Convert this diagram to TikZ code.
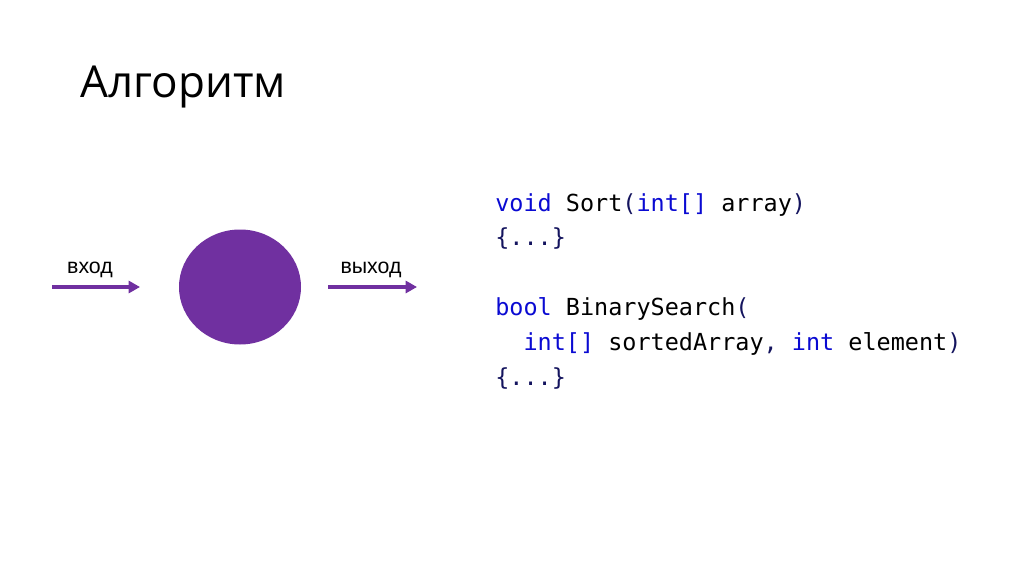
\documentclass[tikz,border=0pt]{standalone}
\usepackage{fontspec}
\setmainfont{Open Sans}
\setmonofont{DejaVu Sans Mono}
\newfontfamily\labelfont{Liberation Sans}
\usepackage{xcolor}
\usepackage{tikz}
\usetikzlibrary{arrows.meta, shapes.geometric, positioning, calc}

\definecolor{algpurple}{HTML}{7030A0}
\definecolor{kwblue}{HTML}{0A0AD2}
\definecolor{pnavy}{HTML}{14145E}
\newcommand{\kw}[1]{\textcolor{kwblue}{#1}}
\newcommand{\pn}[1]{\textcolor{pnavy}{#1}}

\begin{document}
\begin{tikzpicture}[x=0.75pt,y=-0.75pt,
  flow/.style={-{Triangle[length=8.5pt,width=9pt]},line width=3pt,algpurple},
  iolabel/.style={anchor=base,inner sep=0pt,font=\labelfont\fontsize{16}{18}\selectfont},
  codeline/.style={anchor=base west,inner sep=0pt,font=\ttfamily\fontsize{17.6}{20}\selectfont}]
  \useasboundingbox (0,0) rectangle (1024,574);

  % Title
  \node[anchor=base west,inner sep=0pt,font=\fontsize{33}{40}\selectfont] (title) at (80,98) {Алгоритм};

  % Algorithm as a black box
  \node[ellipse,fill=algpurple,minimum width=91.5pt,minimum height=86.25pt,inner sep=0pt] (alg) at (240,287) {};

  % Input and output arrows
  \coordinate (inA) at (52,287);
  \coordinate (inB) at (140,287);
  \coordinate (outA) at (328,287);
  \coordinate (outB) at (417,287);
  \draw[flow] (inA) -- (inB);
  \draw[flow] (outA) -- (outB);

  % Labels
  \node[iolabel] (inlbl) at (90,273) {вход};
  \node[iolabel] (outlbl) at (371,273) {выход};

  % Code
  \node[codeline] (sortsig) at (495,211) {\kw{void} Sort\pn{(}\kw{int[]} array\pn{)}};
  \node[codeline] (sortbody) at (495,245.8) {\pn{\{...\}}};
  \node[codeline] (searchsig) at (495,315.4) {\kw{bool} BinarySearch\pn{(}};
  \node[codeline] (searchargs) at (495,350.2) {\phantom{xx}\kw{int[]} sortedArray\pn{,} \kw{int} element\pn{)}};
  \node[codeline] (searchbody) at (495,385) {\pn{\{...\}}};
\end{tikzpicture}
\end{document}
